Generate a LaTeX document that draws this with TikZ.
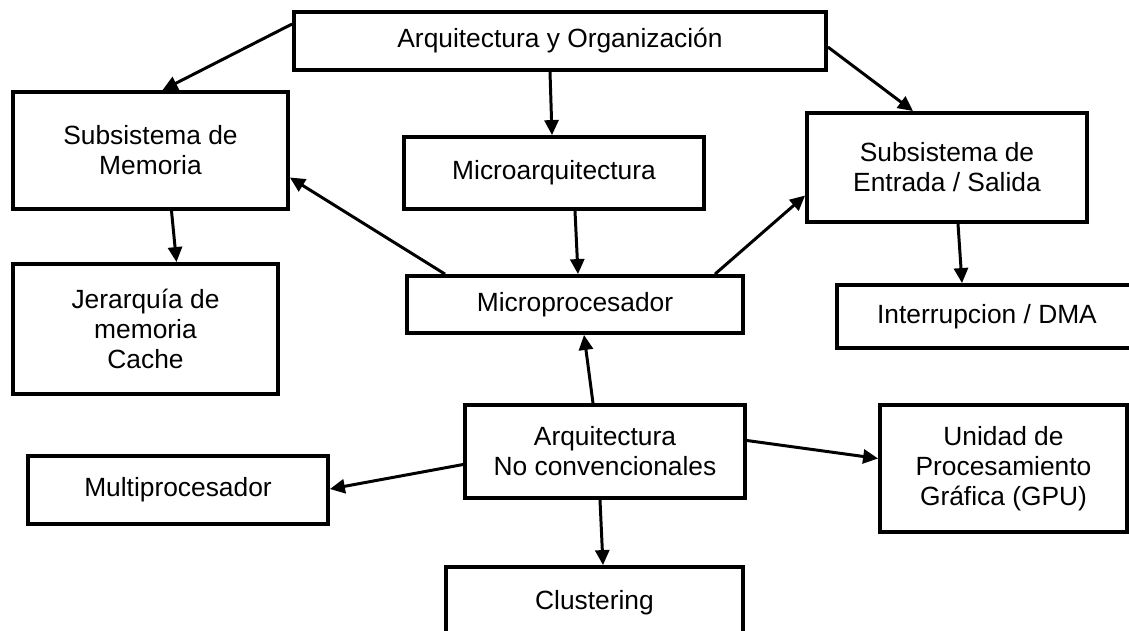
\documentclass[tikz,border=0pt]{standalone}
\usepackage{fontspec}
\setmainfont{Liberation Sans}
\usetikzlibrary{arrows.meta,calc}

\begin{document}
\begin{tikzpicture}[x=0.02cm,y=-0.02cm,
	caja/.style={draw, line width=2.2pt, align=center, inner sep=0pt, font=\fontsize{15}{17}\selectfont},
	flecha/.style={line width=1.7pt, -{Triangle[length=0.3cm,width=0.28cm]}}]
	\useasboundingbox (0,0) rectangle (1129,630);
	% cajas
	\node [caja, minimum width=10.64cm, minimum height=1.16cm] (ao) at (560,41) {Arquitectura y Organización};
	\node [caja, minimum width=5.5cm, minimum height=2.34cm] (mem) at (150.5,150.5) {Subsistema de\\Memoria};
	\node [caja, minimum width=6cm, minimum height=1.44cm] (march) at (554,173) {Microarquitectura};
	\node [caja, minimum width=5.6cm, minimum height=2.18cm] (es) at (947,167.5) {Subsistema de\\Entrada / Salida};
	\node [caja, minimum width=5.3cm, minimum height=2.6cm] (jer) at (145.5,329) {Jerarquía de\\memoria\\Cache};
	\node [caja, minimum width=6.72cm, minimum height=1.14cm] (mproc) at (575,304.5) {Microprocesador};
	\node [caja, minimum width=6cm, minimum height=1.26cm] (irq) at (987,316.5) {Interrupcion / DMA};
	\node [caja, minimum width=5.6cm, minimum height=1.86cm] (anc) at (605,451.5) {Arquitectura\\No convencionales};
	\node [caja, minimum width=6cm, minimum height=1.36cm] (multi) at (178,490) {Multiprocesador};
	\node [caja, minimum width=4.94cm, minimum height=2.54cm] (gpu) at (1003.5,468.5) {Unidad de\\Procesamiento\\Gráfica (GPU)};
	\node [caja, minimum width=5.94cm, minimum height=1.44cm] (clus) at (594.5,603) {Clustering};
	% flechas
	\draw [flecha] ($(ao.west)+(0,-17)$) -- ($(mem.north)+(12,0)$);
	\draw [flecha] ($(ao.south)+(-10,0)$) -- ($(march.north)+(-2,0)$);
	\draw [flecha] ($(ao.east)+(0,6)$) -- ($(es.north)+(-34,0)$);
	\draw [flecha] ($(mem.south)+(21,0)$) -- ($(jer.north)+(31,0)$);
	\draw [flecha] ($(march.south)+(21,0)$) -- ($(mproc.north)+(3,0)$);
	\draw [flecha] ($(mproc.north)+(-130,0)$) -- ($(mem.east)+(0,27)$);
	\draw [flecha] ($(mproc.north)+(140,0)$) -- ($(es.west)+(0,28)$);
	\draw [flecha] ($(es.south)+(11,0)$) -- ($(irq.north)+(-25,0)$);
	\draw [flecha] ($(anc.north)+(-12,0)$) -- ($(mproc.south)+(9,0)$);
	\draw [flecha] ($(anc.west)+(0,13)$) -- ($(multi.east)+(0,-1)$);
	\draw [flecha] ($(anc.east)+(0,-11)$) -- ($(gpu.west)+(0,-10)$);
	\draw [flecha] ($(anc.south)+(-5,0)$) -- ($(clus.north)+(8.5,0)$);
\end{tikzpicture}
\end{document}
